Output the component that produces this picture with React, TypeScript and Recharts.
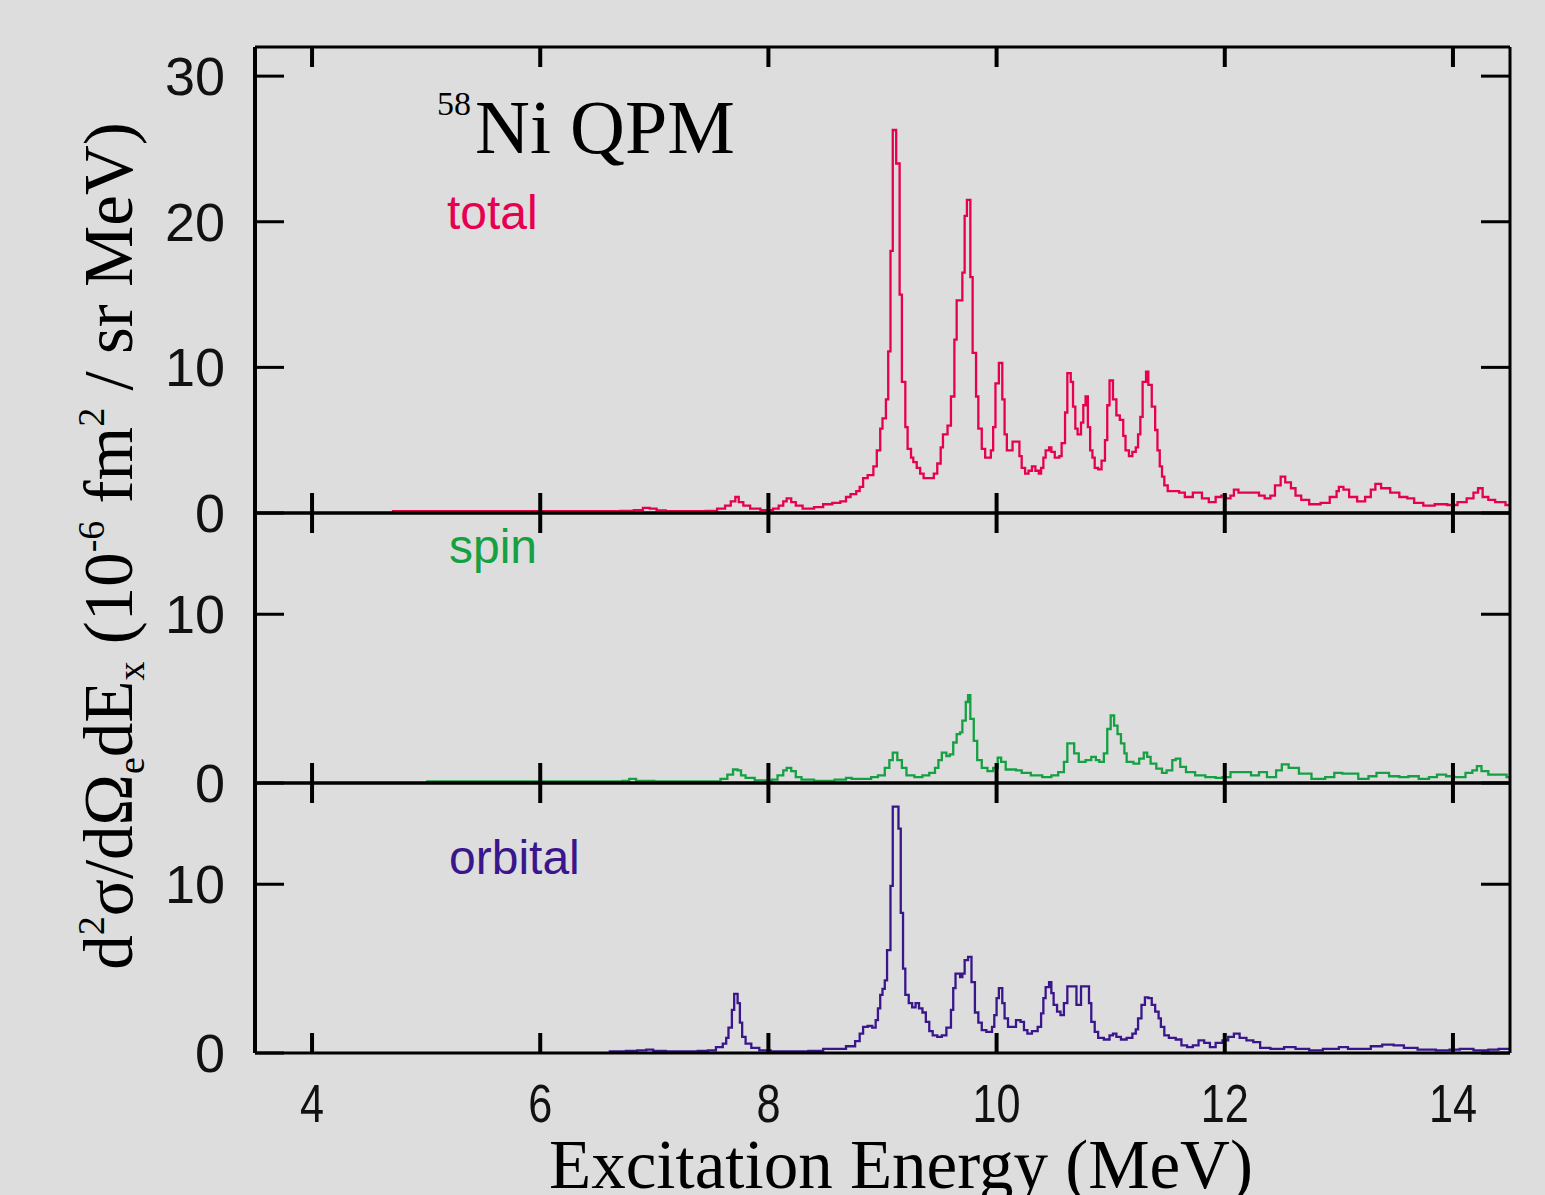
import React from 'react';
import { LineChart, Line, XAxis, YAxis } from 'recharts';

const energyTicks = [4, 6, 8, 10, 12, 14];
const totalTicks = [0, 10, 20, 30];
const spinTicks = [0, 10];
const orbitalTicks = [0, 10];

const totalE = [4.7, 5.5, 6.5, 6.7, 6.82, 6.9, 6.96, 7.02, 7.1, 7.45, 7.55, 7.62, 7.67, 7.71, 7.74, 7.78, 7.84, 7.93, 8.04, 8.09, 8.13, 8.16, 8.2, 8.24, 8.3, 8.4, 8.48, 8.56, 8.63, 8.68, 8.72, 8.77, 8.8, 8.83, 8.87, 8.92, 8.95, 8.98, 9.0, 9.03, 9.05, 9.07, 9.09, 9.12, 9.15, 9.17, 9.2, 9.22, 9.25, 9.27, 9.3, 9.33, 9.36, 9.45, 9.48, 9.51, 9.53, 9.57, 9.6, 9.63, 9.65, 9.7, 9.72, 9.74, 9.77, 9.79, 9.82, 9.84, 9.87, 9.9, 9.95, 9.97, 9.99, 10.02, 10.05, 10.07, 10.09, 10.14, 10.2, 10.22, 10.25, 10.28, 10.31, 10.34, 10.37, 10.39, 10.41, 10.43, 10.46, 10.48, 10.51, 10.55, 10.57, 10.6, 10.62, 10.65, 10.67, 10.69, 10.71, 10.74, 10.76, 10.78, 10.8, 10.82, 10.84, 10.86, 10.89, 10.92, 10.95, 10.97, 10.99, 11.02, 11.05, 11.08, 11.11, 11.13, 11.16, 11.19, 11.22, 11.24, 11.26, 11.28, 11.31, 11.33, 11.36, 11.39, 11.41, 11.43, 11.45, 11.47, 11.5, 11.6, 11.65, 11.72, 11.8, 11.86, 11.92, 11.97, 12.01, 12.05, 12.08, 12.12, 12.3, 12.35, 12.4, 12.44, 12.49, 12.53, 12.58, 12.62, 12.67, 12.74, 12.84, 12.92, 12.98, 13.0, 13.04, 13.09, 13.16, 13.23, 13.28, 13.32, 13.37, 13.45, 13.53, 13.6, 13.66, 13.74, 13.84, 13.95, 14.04, 14.12, 14.18, 14.22, 14.26, 14.31, 14.37, 14.46, 14.5];
const totalV = [0.12, 0.12, 0.13, 0.15, 0.2, 0.35, 0.3, 0.18, 0.13, 0.15, 0.3, 0.5, 0.8, 1.1, 0.75, 0.5, 0.3, 0.2, 0.3, 0.5, 0.8, 1.0, 0.75, 0.5, 0.3, 0.4, 0.6, 0.7, 0.8, 1.1, 1.3, 1.5, 1.8, 2.4, 2.6, 3.2, 4.3, 5.8, 6.5, 7.8, 11.1, 18.0, 26.3, 24.0, 15.0, 9.0, 5.9, 4.4, 3.8, 3.5, 3.1, 2.7, 2.4, 2.7, 3.4, 4.5, 5.4, 6.0, 8.0, 11.9, 14.6, 16.5, 20.4, 21.5, 16.2, 11.0, 8.0, 5.8, 4.4, 3.8, 4.3, 5.9, 8.9, 10.3, 7.8, 5.4, 4.3, 4.9, 3.9, 3.1, 2.7, 2.9, 3.2, 2.9, 2.7, 3.1, 3.8, 4.3, 4.5, 4.2, 3.8, 3.9, 4.8, 6.9, 9.6, 9.0, 7.3, 5.8, 5.4, 6.2, 7.4, 8.0, 5.9, 4.3, 3.8, 3.1, 3.0, 3.6, 5.0, 7.4, 9.1, 7.8, 6.7, 6.4, 5.3, 4.3, 3.9, 4.2, 4.5, 5.4, 6.6, 9.0, 9.7, 8.8, 7.3, 5.7, 4.3, 3.2, 2.5, 1.9, 1.5, 1.4, 1.1, 1.4, 1.0, 0.75, 1.1, 1.2, 1.0, 1.2, 1.6, 1.4, 1.2, 1.0, 1.2, 1.9, 2.5, 2.1, 1.7, 1.2, 0.9, 0.6, 0.7, 1.1, 1.5, 1.8, 1.6, 1.1, 0.8, 1.1, 1.6, 2.0, 1.7, 1.4, 1.1, 1.0, 0.7, 0.5, 0.6, 0.55, 0.75, 1.0, 1.4, 1.7, 1.1, 0.9, 0.75, 0.55, 0.55];

const spinE = [5.0, 6.5, 6.72, 6.78, 6.84, 7.0, 7.5, 7.58, 7.64, 7.69, 7.73, 7.76, 7.8, 7.88, 7.98, 8.03, 8.08, 8.13, 8.16, 8.2, 8.24, 8.29, 8.4, 8.58, 8.68, 8.73, 8.9, 8.96, 9.02, 9.06, 9.09, 9.13, 9.17, 9.21, 9.28, 9.35, 9.41, 9.46, 9.49, 9.52, 9.56, 9.59, 9.62, 9.65, 9.68, 9.7, 9.73, 9.75, 9.77, 9.8, 9.83, 9.87, 9.92, 9.97, 10.01, 10.04, 10.08, 10.17, 10.22, 10.3, 10.4, 10.48, 10.54, 10.59, 10.62, 10.68, 10.72, 10.78, 10.83, 10.87, 10.9, 10.94, 10.97, 11.0, 11.03, 11.06, 11.09, 11.12, 11.14, 11.2, 11.25, 11.29, 11.32, 11.35, 11.4, 11.45, 11.49, 11.54, 11.57, 11.61, 11.66, 11.74, 11.83, 11.92, 11.98, 12.05, 12.15, 12.23, 12.3, 12.37, 12.45, 12.5, 12.56, 12.65, 12.76, 12.88, 12.96, 13.03, 13.17, 13.26, 13.33, 13.44, 13.53, 13.61, 13.7, 13.79, 13.86, 13.94, 14.01, 14.11, 14.17, 14.21, 14.25, 14.31, 14.4, 14.47, 14.5];
const spinV = [0.1, 0.1, 0.13, 0.25, 0.13, 0.1, 0.1, 0.25, 0.5, 0.8, 0.75, 0.45, 0.3, 0.15, 0.12, 0.2, 0.45, 0.75, 0.9, 0.7, 0.35, 0.2, 0.12, 0.2, 0.3, 0.25, 0.35, 0.45, 0.9, 1.35, 1.8, 1.35, 0.9, 0.45, 0.35, 0.45, 0.6, 0.9, 1.35, 1.8, 1.6, 1.7, 2.4, 2.9, 3.0, 3.7, 4.8, 5.2, 3.8, 2.5, 1.35, 0.9, 0.7, 0.9, 1.5, 1.25, 0.8, 0.75, 0.6, 0.45, 0.35, 0.45, 0.65, 1.25, 2.35, 1.75, 1.25, 1.35, 1.55, 1.35, 1.25, 1.75, 3.2, 4.0, 3.4, 2.9, 2.35, 1.75, 1.25, 1.15, 1.45, 1.8, 1.55, 1.15, 0.85, 0.6, 0.75, 1.35, 1.45, 0.95, 0.65, 0.45, 0.35, 0.3, 0.35, 0.65, 0.65, 0.45, 0.65, 0.35, 0.75, 1.1, 0.9, 0.55, 0.25, 0.35, 0.6, 0.55, 0.25, 0.4, 0.6, 0.4, 0.35, 0.4, 0.25, 0.35, 0.5, 0.4, 0.35, 0.6, 0.75, 1.0, 0.7, 0.5, 0.5, 0.35, 0.35];

const orbitalE = [6.6, 6.75, 6.85, 6.93, 6.99, 7.1, 7.38, 7.47, 7.54, 7.6, 7.63, 7.65, 7.68, 7.7, 7.73, 7.75, 7.77, 7.8, 7.85, 7.92, 8.02, 8.35, 8.48, 8.68, 8.76, 8.8, 8.83, 8.87, 8.91, 8.94, 8.96, 8.98, 9.0, 9.02, 9.04, 9.07, 9.09, 9.14, 9.16, 9.18, 9.2, 9.23, 9.26, 9.29, 9.32, 9.35, 9.38, 9.41, 9.44, 9.48, 9.52, 9.56, 9.6, 9.62, 9.64, 9.68, 9.7, 9.72, 9.75, 9.78, 9.81, 9.84, 9.87, 9.91, 9.96, 9.98, 10.0, 10.02, 10.05, 10.07, 10.1, 10.17, 10.21, 10.24, 10.27, 10.31, 10.36, 10.39, 10.41, 10.43, 10.46, 10.48, 10.5, 10.53, 10.56, 10.59, 10.62, 10.67, 10.7, 10.74, 10.78, 10.81, 10.83, 10.86, 10.89, 10.94, 10.99, 11.02, 11.05, 11.09, 11.14, 11.19, 11.22, 11.24, 11.27, 11.3, 11.33, 11.36, 11.39, 11.42, 11.44, 11.47, 11.51, 11.57, 11.62, 11.67, 11.72, 11.77, 11.82, 11.87, 11.92, 11.98, 12.03, 12.08, 12.13, 12.19, 12.25, 12.31, 12.4, 12.52, 12.62, 12.74, 12.86, 13.0, 13.08, 13.18, 13.28, 13.38, 13.48, 13.57, 13.69, 13.85, 13.97, 14.06, 14.18, 14.31, 14.4, 14.5];
const orbitalV = [0.1, 0.12, 0.15, 0.2, 0.12, 0.1, 0.12, 0.15, 0.35, 0.55, 0.9, 1.5, 2.55, 3.5, 2.95, 1.8, 0.95, 0.55, 0.3, 0.15, 0.1, 0.12, 0.25, 0.4, 0.7, 1.15, 1.55, 1.6, 1.5, 1.95, 2.65, 3.45, 3.8, 4.3, 6.1, 9.9, 14.6, 13.3, 8.3, 5.0, 3.45, 2.95, 2.7, 2.95, 2.65, 2.4, 1.85, 1.3, 1.05, 0.95, 1.05, 1.5, 2.55, 3.85, 4.7, 4.5, 4.7, 5.5, 5.7, 4.2, 2.4, 1.8, 1.35, 1.25, 1.55, 2.25, 3.25, 3.85, 2.95, 2.05, 1.55, 1.95, 1.85, 1.35, 1.15, 1.3, 1.55, 2.35, 3.25, 3.9, 4.2, 3.55, 2.85, 2.45, 2.25, 2.95, 3.95, 3.95, 2.85, 3.95, 3.95, 2.95, 1.85, 1.25, 0.9, 0.8, 1.05, 1.15, 0.95, 0.8, 0.9, 1.15, 1.4, 2.05, 2.85, 3.3, 3.25, 2.85, 2.45, 2.05, 1.55, 1.05, 0.9, 0.8, 0.45, 0.35, 0.45, 0.75, 0.6, 0.35, 0.6, 0.75, 0.95, 1.15, 0.9, 0.75, 0.65, 0.3, 0.25, 0.35, 0.25, 0.15, 0.25, 0.35, 0.25, 0.25, 0.4, 0.5, 0.45, 0.3, 0.2, 0.15, 0.2, 0.25, 0.15, 0.2, 0.25, 0.15];

const W = 1545;
const H = 1195;
const PLOT_LEFT = 255;
const PLOT_RIGHT = 1510;
const TICK_FONT = "'Liberation Sans', Arial, sans-serif";
const SERIF = "'Liberation Serif', 'Times New Roman', serif";

const rows = (es: number[], vs: number[]) => es.map((e, i) => ({ e, v: vs[i] }));

const BottomTick = (p: any) => {
  const { x, y, payload, showLabel } = p;
  return (
    <g>
      <line x1={x} x2={x} y1={y} y2={y - 20} stroke="#000" strokeWidth={4} />
      {showLabel && (
        <text
          transform={`translate(${x},${y + 50}) scale(0.8,1)`}
          textAnchor="middle"
          dominantBaseline="central"
          fontFamily={TICK_FONT}
          fontSize={54}
          fill="#111"
        >
          {payload.value}
        </text>
      )}
    </g>
  );
};

const TopTick = (p: any) => {
  const { x, y } = p;
  return <line x1={x} x2={x} y1={y} y2={y + 20} stroke="#000" strokeWidth={4} />;
};

const LeftTick = (p: any) => {
  const { x, y, payload } = p;
  return (
    <g>
      <line x1={x} x2={x + 29} y1={y} y2={y} stroke="#000" strokeWidth={3} />
      <text x={x - 30} y={y} textAnchor="end" dominantBaseline="central" fontFamily={TICK_FONT} fontSize={54} fill="#111">
        {payload.value}
      </text>
    </g>
  );
};

const RightTick = (p: any) => {
  const { x, y } = p;
  return <line x1={x - 29} x2={x} y1={y} y2={y} stroke="#000" strokeWidth={3} />;
};

type PanelProps = {
  top: number;
  bottom: number;
  data: { e: number; v: number }[];
  color: string;
  yMax: number;
  yTicks: number[];
  showXLabels: boolean;
};

function Panel({ top, bottom, data, color, yMax, yTicks, showXLabels }: PanelProps) {
  return (
    <div style={{ position: 'absolute', left: 0, top: 0 }}>
      <LineChart
        width={W}
        height={H}
        data={data}
        margin={{ top: top - 1, bottom: H - bottom - 1, left: PLOT_LEFT - 1, right: W - PLOT_RIGHT - 1 }}
      >
        <XAxis
          xAxisId="b"
          dataKey="e"
          type="number"
          domain={[3.5, 14.5]}
          ticks={energyTicks}
          interval={0}
          allowDataOverflow
          height={1}
          tickSize={0}
          tickMargin={0}
          tickLine={false}
          axisLine={{ stroke: '#000', strokeWidth: 3 }}
          tick={(p: any) => <BottomTick {...p} showLabel={showXLabels} />}
        />
        <XAxis
          xAxisId="t"
          orientation="top"
          dataKey="e"
          type="number"
          domain={[3.5, 14.5]}
          ticks={energyTicks}
          interval={0}
          allowDataOverflow
          height={1}
          tickSize={0}
          tickMargin={0}
          tickLine={false}
          axisLine={{ stroke: '#000', strokeWidth: 3 }}
          tick={(p: any) => <TopTick {...p} />}
        />
        <YAxis
          yAxisId="l"
          type="number"
          domain={[0, yMax]}
          ticks={yTicks}
          interval={0}
          allowDataOverflow
          width={1}
          tickSize={0}
          tickMargin={0}
          tickLine={false}
          axisLine={{ stroke: '#000', strokeWidth: 4 }}
          tick={(p: any) => <LeftTick {...p} />}
        />
        <YAxis
          yAxisId="r"
          orientation="right"
          type="number"
          domain={[0, yMax]}
          ticks={yTicks}
          interval={0}
          allowDataOverflow
          width={1}
          tickSize={0}
          tickMargin={0}
          tickLine={false}
          axisLine={{ stroke: '#000', strokeWidth: 3 }}
          tick={(p: any) => <RightTick {...p} />}
        />
        <Line
          xAxisId="b"
          yAxisId="l"
          dataKey="v"
          type="stepAfter"
          stroke={color}
          strokeWidth={2.3}
          dot={false}
          activeDot={false}
          isAnimationActive={false}
        />
      </LineChart>
    </div>
  );
}

const TOTAL_COLOR = '#e6004f';
const SPIN_COLOR = '#15a043';
const ORBITAL_COLOR = '#3a168c';

export default function App() {
  return (
    <div style={{ position: 'absolute', left: 0, top: 0, width: W, height: H, background: '#dddddd', overflow: 'hidden' }}>
      <Panel top={47} bottom={513} data={rows(totalE, totalV)} color={TOTAL_COLOR} yMax={32} yTicks={totalTicks} showXLabels={false} />
      <Panel top={513} bottom={783} data={rows(spinE, spinV)} color={SPIN_COLOR} yMax={16} yTicks={spinTicks} showXLabels={false} />
      <Panel top={783} bottom={1053} data={rows(orbitalE, orbitalV)} color={ORBITAL_COLOR} yMax={16} yTicks={orbitalTicks} showXLabels={true} />
      <svg width={W} height={H} style={{ position: 'absolute', left: 0, top: 0, pointerEvents: 'none' }}>
        <text x={437} y={115} fontFamily={SERIF} fontSize={34} fill="#000">58</text>
        <text x={475} y={153} fontFamily={SERIF} fontSize={76} fill="#000">Ni QPM</text>
        <text x={447} y={229} fontFamily={TICK_FONT} fontSize={48} fill={TOTAL_COLOR}>total</text>
        <text x={449} y={563} fontFamily={TICK_FONT} fontSize={48} fill={SPIN_COLOR}>spin</text>
        <text x={449} y={874} fontFamily={TICK_FONT} fontSize={48} fill={ORBITAL_COLOR}>orbital</text>
        <text x={901} y={1188} textAnchor="middle" fontFamily={SERIF} fontSize={69} fill="#000">Excitation Energy (MeV)</text>
        <text
          x={132}
          y={546}
          transform="rotate(-90 132 546)"
          textAnchor="middle"
          fontFamily={SERIF}
          fontSize={69}
          fill="#000"
        >
          d<tspan dy={-28} fontSize={38}>2</tspan>
          <tspan dy={28}>σ/dΩ</tspan>
          <tspan dy={12} fontSize={38}>e</tspan>
          <tspan dy={-12}>dE</tspan>
          <tspan dy={12} fontSize={38}>x</tspan>
          <tspan dy={-12}>{' (10'}</tspan>
          <tspan dy={-28} fontSize={38}>-6</tspan>
          <tspan dy={28}>{' fm'}</tspan>
          <tspan dy={-28} fontSize={38}>2</tspan>
          <tspan dy={28}>{' / sr MeV)'}</tspan>
        </text>
      </svg>
    </div>
  );
}
